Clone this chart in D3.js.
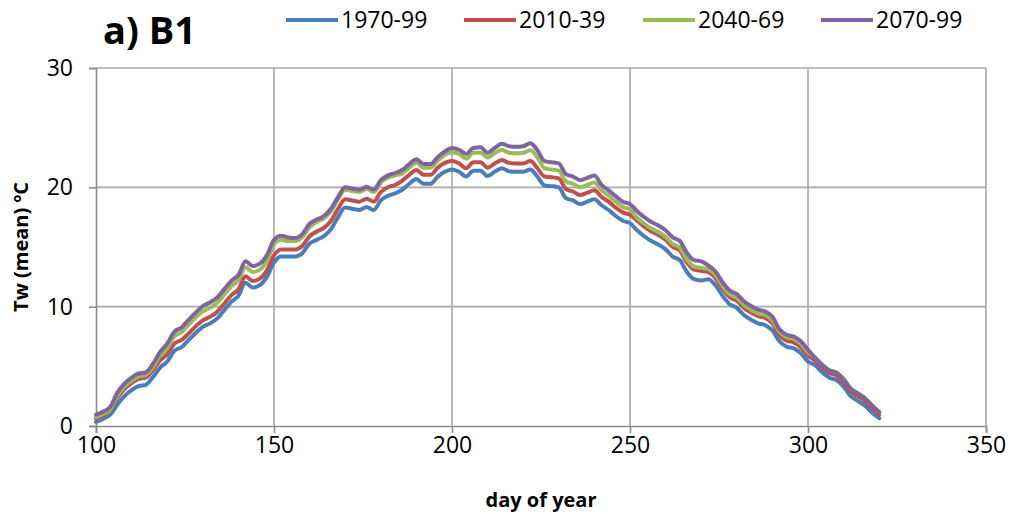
<!DOCTYPE html>
<html>
<head>
<meta charset="utf-8">
<script src="https://cdn.jsdelivr.net/npm/d3@7"></script>
<style>
  html, body { margin: 0; padding: 0; background: #fff; }
  svg { display: block; }
  text { font-family: "Open Sans", "Noto Sans", sans-serif; fill: #000; }
</style>
</head>
<body>
<svg id="chart" width="1013" height="520"></svg>
<script>
// Day of year at which each mean water temperature is given
const days = [100,102,104,106,108,110,112,114,116,118,120,122,124,126,128,130,132,134,136,138,
  140,142,144,146,148,150,152,154,156,158,160,162,164,166,168,170,172,174,176,178,
  180,182,184,186,188,190,192,194,196,198,200,202,204,206,208,210,212,214,216,218,
  220,222,224,226,228,230,232,234,236,238,240,242,244,246,248,250,252,254,256,258,
  260,262,264,266,268,270,272,274,276,278,280,282,284,286,288,290,292,294,296,298,
  300,302,304,306,308,310,312,314,316,318,320];

const seriesNames = ["1970-99", "2010-39", "2040-69", "2070-99"];
const seriesColors = ["#4a7ebb", "#c0504d", "#9bbb59", "#8064a2"];

const tw1970 = [0.35,0.6,0.95,1.8,2.5,3.0,3.35,3.45,4.1,4.9,5.4,6.3,6.6,7.2,7.8,8.3,8.6,9.0,9.7,10.4,
  10.9,12.0,11.6,11.8,12.5,13.7,14.2,14.2,14.2,14.5,15.3,15.6,15.9,16.5,17.5,18.3,18.2,18.1,18.35,18.1,
  18.9,19.3,19.5,19.8,20.3,20.7,20.3,20.3,20.9,21.3,21.5,21.3,20.9,21.4,21.4,20.95,21.3,21.6,21.35,21.3,
  21.3,21.5,20.9,20.15,20.1,20.0,19.1,18.9,18.6,18.8,19.0,18.5,18.1,17.6,17.2,17.0,16.4,15.9,15.5,15.2,
  14.8,14.2,13.9,12.9,12.3,12.2,12.3,11.8,10.9,10.2,9.9,9.3,8.9,8.6,8.45,8.0,7.1,6.65,6.5,6.1,
  5.4,5.1,4.5,4.05,3.85,3.3,2.5,2.1,1.7,1.1,0.65];

const tw2010 = [0.65,0.9,1.3,2.35,3.1,3.6,3.95,4.05,4.7,5.5,6.0,6.9,7.2,7.75,8.35,8.85,9.15,9.55,10.25,10.95,
  11.45,12.55,12.15,12.35,13.05,14.3,14.8,14.8,14.8,15.1,15.9,16.3,16.6,17.2,18.2,19.0,18.9,18.8,19.05,18.8,
  19.6,20.0,20.2,20.55,21.05,21.45,21.05,21.05,21.65,22.05,22.2,22.0,21.6,22.1,22.1,21.65,22.0,22.3,22.05,22.0,
  22.0,22.2,21.6,20.9,20.85,20.75,19.85,19.65,19.35,19.55,19.75,19.2,18.8,18.3,17.9,17.7,17.2,16.7,16.3,16.0,
  15.6,15.0,14.7,13.7,13.1,13.0,12.9,12.4,11.5,10.8,10.5,9.9,9.5,9.2,9.05,8.6,7.6,7.15,7.0,6.6,
  5.9,5.5,4.9,4.45,4.25,3.7,2.9,2.5,2.1,1.5,0.95];

const tw2040 = [0.75,1.0,1.4,2.55,3.3,3.8,4.15,4.3,4.95,5.9,6.5,7.5,7.85,8.5,9.1,9.6,9.9,10.3,11.0,11.7,
  12.2,13.3,12.9,13.1,13.8,15.2,15.6,15.5,15.5,15.85,16.65,17.1,17.4,18.0,19.0,19.8,19.7,19.6,19.85,19.6,
  20.4,20.8,21.0,21.15,21.65,22.05,21.65,21.65,22.25,22.7,22.95,22.8,22.4,22.9,22.9,22.5,22.85,23.15,22.9,22.85,
  22.9,23.1,22.5,21.6,21.5,21.4,20.5,20.3,20.0,20.2,20.4,19.75,19.3,18.8,18.35,18.15,17.45,16.95,16.55,16.25,
  15.85,15.25,14.95,13.95,13.35,13.25,13.15,12.65,11.75,11.05,10.75,10.15,9.75,9.45,9.3,8.85,7.9,7.45,7.3,6.9,
  6.2,5.75,5.15,4.7,4.5,3.95,3.15,2.75,2.35,1.75,1.2];

const tw2070 = [0.95,1.2,1.6,2.8,3.55,4.05,4.4,4.5,5.2,6.2,6.9,7.9,8.25,8.9,9.5,10.05,10.35,10.75,11.45,12.15,
  12.65,13.8,13.4,13.6,14.3,15.6,15.95,15.8,15.75,16.1,16.95,17.3,17.6,18.2,19.2,20.0,19.9,19.8,20.05,19.8,
  20.6,21.0,21.2,21.45,21.95,22.35,21.95,21.95,22.55,23.0,23.3,23.15,22.8,23.3,23.35,22.9,23.3,23.65,23.45,23.4,
  23.45,23.7,23.1,22.2,22.1,22.0,21.1,20.9,20.6,20.8,21.0,20.2,19.75,19.25,18.8,18.6,18.0,17.5,17.1,16.8,
  16.4,15.8,15.5,14.5,13.9,13.8,13.45,12.95,12.05,11.35,11.05,10.45,10.05,9.75,9.6,9.15,8.1,7.65,7.5,7.1,
  6.4,5.7,5.1,4.65,4.45,3.9,3.1,2.7,2.3,1.7,1.15];

const xTicks = [100, 150, 200, 250, 300, 350];
const yTicks = [0, 10, 20, 30];

const allSeries = [tw1970, tw2010, tw2040, tw2070];

// Plot area
const plotLeft = 96, plotRight = 986, plotTop = 68, plotBottom = 426;

const svg = d3.select("#chart");
const x = d3.scaleLinear().domain([100, 350]).range([plotLeft, plotRight]);
const y = d3.scaleLinear().domain([0, 30]).range([plotBottom, plotTop]);

const gridColor = "#a9a9a9";
const axisColor = "#8c8c8c";

// Gridlines
const grid = svg.append("g");
grid.selectAll("line.h").data(yTicks.filter(d => d > 0)).join("line")
  .attr("x1", plotLeft).attr("x2", plotRight)
  .attr("y1", d => y(d)).attr("y2", d => y(d))
  .attr("stroke", gridColor).attr("stroke-width", 1.6);
grid.selectAll("line.v").data(xTicks.filter(d => d > 100)).join("line")
  .attr("x1", d => x(d)).attr("x2", d => x(d))
  .attr("y1", plotTop).attr("y2", plotBottom)
  .attr("stroke", gridColor).attr("stroke-width", 1.6);

// Axes
const xAxis = svg.append("g").attr("transform", `translate(0,${plotBottom})`)
  .call(d3.axisBottom(x).tickValues(xTicks).tickSize(7).tickPadding(4));
const yAxis = svg.append("g").attr("transform", `translate(${plotLeft},0)`)
  .call(d3.axisLeft(y).tickValues(yTicks).tickSize(7).tickPadding(16));

[xAxis, yAxis].forEach(a => {
  a.select(".domain").attr("stroke", axisColor).attr("stroke-width", 1.6);
  a.selectAll(".tick line").attr("stroke", axisColor).attr("stroke-width", 1.6);
  a.selectAll(".tick text")
    .style("font-family", '"Open Sans", "Noto Sans", sans-serif')
    .style("font-size", "23px").attr("fill", "#000");
});

// Series lines
const line = d3.line()
  .x((d, i) => x(days[i]))
  .y(d => y(d))
  .curve(d3.curveMonotoneX);

svg.append("g").selectAll("path").data(allSeries).join("path")
  .attr("d", d => line(d))
  .attr("fill", "none")
  .attr("stroke", (d, i) => seriesColors[i])
  .attr("stroke-width", 4)
  .attr("stroke-linejoin", "round")
  .attr("stroke-linecap", "round");

// Title
svg.append("text").attr("x", 103).attr("y", 44)
  .style("font-size", "38px").style("font-weight", "bold")
  .text("a) B1");

// Legend
const legendX = [286, 464, 643, 821];
const legend = svg.append("g");
seriesNames.forEach((name, i) => {
  const g = legend.append("g").attr("transform", `translate(${legendX[i]},20)`);
  g.append("line").attr("x1", 0).attr("x2", 52).attr("y1", 0).attr("y2", 0)
    .attr("stroke", seriesColors[i]).attr("stroke-width", 4);
  g.append("text").attr("x", 55).attr("y", 0).attr("dy", "0.35em")
    .style("font-size", "23px").text(name);
});

// Axis titles
svg.append("text").attr("x", (plotLeft + plotRight) / 2).attr("y", 507)
  .attr("text-anchor", "middle")
  .style("font-size", "20px").style("font-weight", "bold")
  .text("day of year");

svg.append("text")
  .attr("transform", `translate(28,${(plotTop + plotBottom) / 2}) rotate(-90)`)
  .attr("text-anchor", "middle")
  .style("font-size", "20px").style("font-weight", "bold")
  .text("Tw (mean) ºC");
</script>
</body>
</html>
